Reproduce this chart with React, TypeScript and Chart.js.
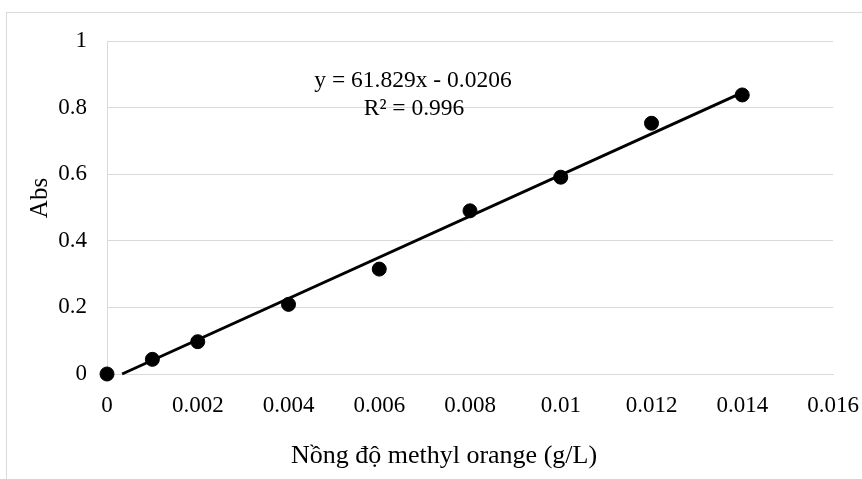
import React, { useEffect, useRef } from "react";
import { Chart, registerables } from "chart.js";

Chart.register(...registerables);

const concentrations = [0, 0.001, 0.002, 0.004, 0.006, 0.008, 0.01, 0.012, 0.014];
const absorbances = [0, 0.044, 0.097, 0.209, 0.315, 0.49, 0.591, 0.753, 0.838];
const trendSlope = 61.829;
const trendIntercept = -0.0206;
const equationLines = ["y = 61.829x - 0.0206", "R\u00b2 = 0.996"];
const xAxisTitle = "N\u1ed3ng \u0111\u1ed9 methyl orange (g/L)";
const yAxisTitle = "Abs";
const xMin = 0, xMax = 0.016, xStep = 0.002;
const yMin = 0, yMax = 1, yStep = 0.2;

const FONT = "'Liberation Serif', 'Times New Roman', serif";
const GRID = "#d9d9d9";

const fmt = (v: number) => String(Number(Number(v).toFixed(4)));

const textPlugin = {
  id: "extraText",
  afterDraw(chart: any) {
    const { ctx, chartArea } = chart;
    ctx.save();
    // outer frame
    ctx.strokeStyle = GRID;
    ctx.lineWidth = 1;
    ctx.strokeRect(6.5, 12.5, chart.width + 20, chart.height + 20);
    ctx.fillStyle = "#000";
    // equation
    ctx.textAlign = "center";
    ctx.textBaseline = "alphabetic";
    ctx.font = `23.5px ${FONT}`;
    ctx.fillText(equationLines[0], chartArea.left + 306, chartArea.top + 46);
    ctx.fillText(equationLines[1], chartArea.left + 307, chartArea.top + 74);
    // x title
    ctx.font = `26px ${FONT}`;
    ctx.fillText(xAxisTitle, chartArea.left + 337, chartArea.bottom + 89);
    // y title
    ctx.translate(47, chartArea.top + 157);
    ctx.rotate(-Math.PI / 2);
    ctx.font = `25px ${FONT}`;
    ctx.fillText(yAxisTitle, 0, 0);
    ctx.restore();
  },
};

export default function App() {
  const ref = useRef<HTMLCanvasElement | null>(null);
  useEffect(() => {
    if (!ref.current) return;
    const x0 = -trendIntercept / trendSlope;
    const x1 = concentrations[concentrations.length - 1];
    const trend = [x0, x1].map((x) => ({ x, y: trendSlope * x + trendIntercept }));
    const chart = new Chart(ref.current, {
      type: "scatter",
      data: {
        datasets: [
          {
            type: "line",
            data: trend,
            borderColor: "#000",
            borderWidth: 3,
            pointRadius: 0,
            showLine: true,
            fill: false,
            clip: false,
          } as any,
          {
            data: concentrations.map((x, i) => ({ x, y: absorbances[i] })),
            backgroundColor: "#000",
            borderColor: "#000",
            pointRadius: 7,
            pointHoverRadius: 7,
            clip: false,
          },
        ],
      },
      options: {
        responsive: false,
        animation: false,
        events: [],
        layout: { padding: { left: 0, top: 41, right: 29, bottom: 0 } },
        plugins: { legend: { display: false }, tooltip: { enabled: false }, title: { display: false } },
        scales: {
          x: {
            type: "linear",
            min: xMin,
            max: xMax,
            grid: { display: false, drawTicks: false },
            border: { display: true, color: GRID, width: 1 },
            ticks: {
              stepSize: xStep,
              padding: 18,
              color: "#000",
              font: { family: FONT, size: 23 },
              maxRotation: 0,
              autoSkip: false,
              callback: (v: any) => fmt(v),
            },
            afterFit: (s: any) => { s.height = 105; s.paddingLeft = 0; s.paddingRight = 0; },
          },
          y: {
            type: "linear",
            min: yMin,
            max: yMax,
            grid: { color: GRID, lineWidth: 1, drawTicks: false },
            border: { display: true, color: GRID, width: 1 },
            ticks: {
              stepSize: yStep,
              padding: 20,
              color: "#000",
              font: { family: FONT, size: 23 },
              callback: (v: any) => fmt(v),
            },
            afterFit: (s: any) => { s.width = 107; s.paddingTop = 0; s.paddingBottom = 0; },
          },
        },
      } as any,
      plugins: [textPlugin],
    });
    return () => chart.destroy();
  }, []);
  return (
    <div style={{ position: "absolute", left: 0, top: 0, width: 862, height: 479, background: "#fff" }}>
      <canvas ref={ref} width={862} height={479} style={{ display: "block" }} />
    </div>
  );
}
